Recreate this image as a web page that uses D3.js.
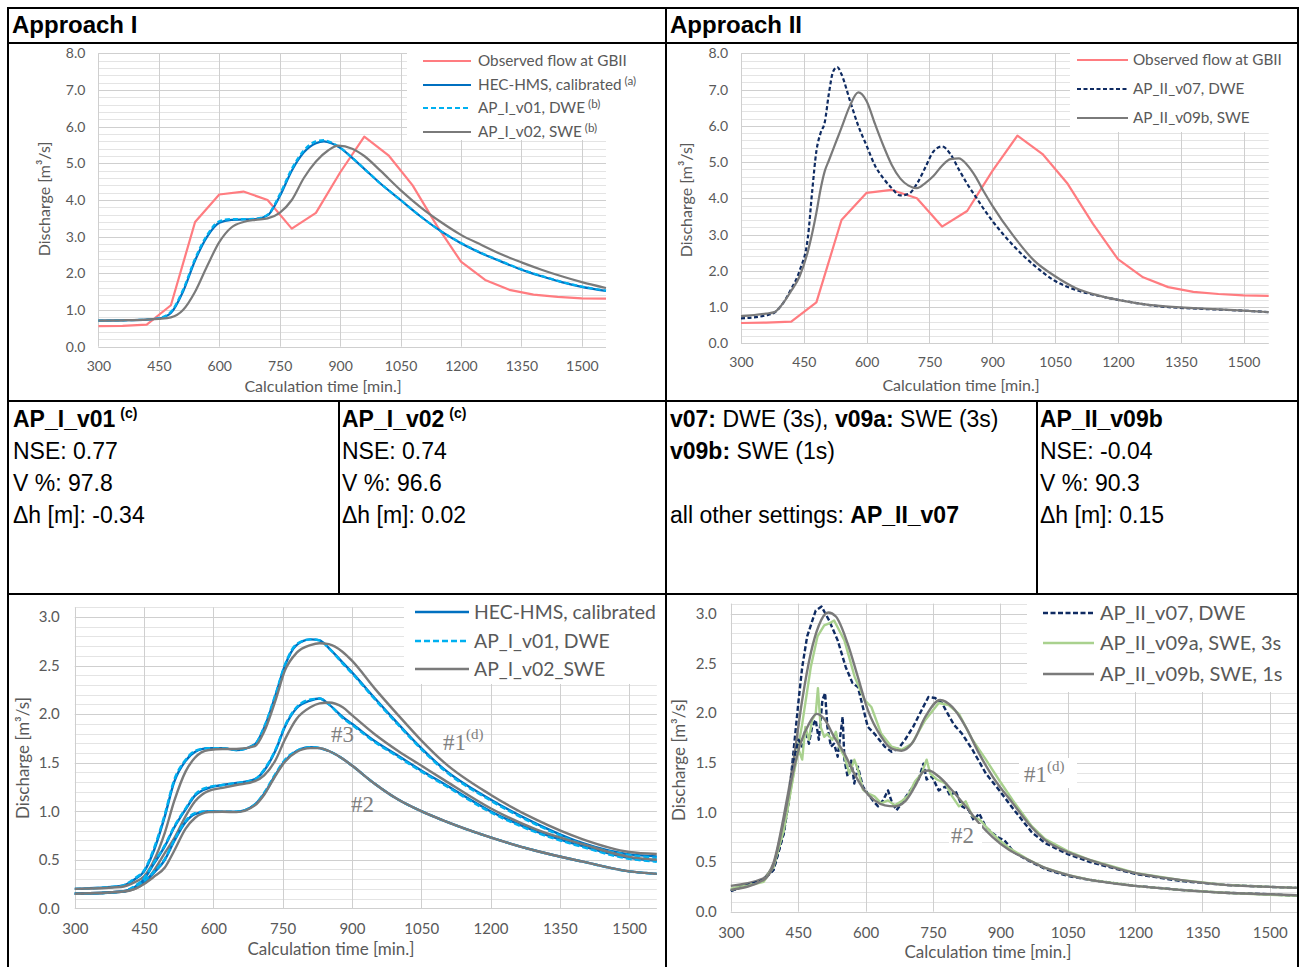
<!DOCTYPE html>
<html>
<head>
<meta charset="utf-8">
<script src="https://cdn.jsdelivr.net/npm/d3@7"></script>
<style>
body { margin: 0; background: #fff; }
svg { display: block; }
</style>
</head>
<body>
<svg width="1304" height="967"></svg>
<script>
// ---------- data ----------
const xTickVals = [300, 450, 600, 750, 900, 1050, 1200, 1350, 1500];
const yTicksTop = [0, 1, 2, 3, 4, 5, 6, 7, 8];
const yTicksBottom = [0, 0.5, 1.0, 1.5, 2.0, 2.5, 3.0];

// observed flow at GBII (hourly)
const obsFlow = [[300,0.56],[360,0.57],[420,0.60],[480,1.13],[540,3.40],[600,4.15],[660,4.23],[720,4.00],[780,3.22],[840,3.65],[900,4.75],[960,5.73],[1020,5.22],[1080,4.40],[1140,3.30],[1200,2.32],[1260,1.82],[1320,1.55],[1380,1.42],[1440,1.36],[1500,1.32],[1560,1.31]];

// Approach I, outlet
const hecTop = [[300,0.71],[360,0.72],[420,0.74],[450,0.77],[480,0.92],[510,1.5],[540,2.35],[570,3.0],[600,3.38],[630,3.46],[660,3.47],[690,3.48],[720,3.58],[750,4.1],[780,4.8],[810,5.3],[840,5.55],[860,5.6],[880,5.54],[900,5.42],[930,5.15],[960,4.85],[1000,4.45],[1050,4.0],[1100,3.55],[1150,3.15],[1200,2.82],[1250,2.55],[1300,2.32],[1350,2.1],[1400,1.92],[1450,1.76],[1500,1.63],[1560,1.52]];
const v01Top = [[300,0.71],[360,0.72],[420,0.74],[450,0.78],[480,0.95],[510,1.55],[540,2.4],[570,3.05],[600,3.42],[630,3.48],[660,3.48],[690,3.49],[720,3.6],[750,4.15],[780,4.85],[810,5.35],[840,5.6],[860,5.63],[880,5.56],[900,5.43],[930,5.15],[960,4.85],[1000,4.45],[1050,4.0],[1100,3.55],[1150,3.15],[1200,2.83],[1250,2.56],[1300,2.33],[1350,2.11],[1400,1.93],[1450,1.77],[1500,1.64],[1560,1.53]];
const v02Top = [[300,0.71],[360,0.72],[420,0.74],[450,0.76],[480,0.8],[510,1.0],[540,1.5],[570,2.2],[600,2.85],[630,3.25],[660,3.4],[690,3.46],[720,3.5],[750,3.65],[780,4.0],[810,4.6],[840,5.05],[870,5.35],[895,5.48],[930,5.4],[960,5.2],[1000,4.8],[1050,4.27],[1100,3.8],[1150,3.4],[1200,3.05],[1250,2.78],[1300,2.52],[1350,2.3],[1400,2.1],[1450,1.92],[1500,1.76],[1560,1.6]];

// Approach II, outlet
const v07Top = [[300,0.69],[360,0.77],[380,0.85],[400,1.1],[420,1.5],[440,2.0],[460,2.95],[470,4.2],[480,5.3],[490,5.8],[500,6.1],[510,6.9],[520,7.5],[530,7.62],[540,7.42],[560,6.7],[580,6.0],[600,5.45],[620,4.9],[640,4.55],[660,4.28],[680,4.08],[700,4.12],[720,4.4],[740,4.85],[760,5.3],[780,5.43],[800,5.22],[820,4.8],[840,4.4],[860,4.05],[880,3.7],[900,3.38],[950,2.7],[1000,2.15],[1050,1.72],[1100,1.47],[1150,1.32],[1200,1.2],[1300,1.02],[1400,0.95],[1500,0.9],[1560,0.86]];
const v09bTop = [[300,0.75],[360,0.82],[380,0.86],[400,1.1],[420,1.45],[440,1.85],[460,2.55],[480,3.6],[490,4.25],[500,4.75],[510,5.05],[520,5.35],[530,5.65],[540,5.95],[560,6.55],[580,6.92],[600,6.68],[620,6.05],[640,5.45],[660,4.92],[680,4.55],[700,4.35],[720,4.28],[740,4.42],[760,4.62],[780,4.9],[800,5.08],[820,5.1],[840,4.92],[860,4.6],[880,4.18],[900,3.8],[950,2.97],[1000,2.28],[1050,1.85],[1100,1.52],[1150,1.33],[1200,1.2],[1300,1.03],[1400,0.96],[1500,0.9],[1560,0.86]];

// Approach I, inner cross sections #1, #2, #3
const timeC = [300,400,430,450,470,495,515,540,560,590,620,650,690,710,735,755,780,810,830,850,880,900,950,1000,1050,1100,1200,1300,1400,1500,1560];
const hec1 = [0.2,0.23,0.3,0.38,0.58,0.95,1.3,1.52,1.61,1.65,1.65,1.63,1.69,1.86,2.2,2.5,2.71,2.77,2.76,2.68,2.53,2.43,2.16,1.9,1.65,1.43,1.12,0.87,0.67,0.555,0.535];
const v01_1 = [0.2,0.23,0.31,0.39,0.6,0.97,1.32,1.53,1.62,1.65,1.65,1.63,1.69,1.87,2.21,2.51,2.72,2.77,2.76,2.68,2.52,2.42,2.15,1.89,1.64,1.42,1.11,0.86,0.66,0.55,0.52];
const v02_1 = [0.2,0.22,0.27,0.33,0.48,0.78,1.1,1.41,1.55,1.63,1.64,1.64,1.67,1.82,2.15,2.45,2.63,2.71,2.73,2.72,2.64,2.55,2.26,1.99,1.73,1.5,1.17,0.91,0.71,0.58,0.56];
const hec3 = [0.15,0.17,0.22,0.3,0.45,0.64,0.83,1.02,1.16,1.24,1.27,1.29,1.33,1.42,1.63,1.87,2.06,2.14,2.16,2.1,1.97,1.9,1.72,1.57,1.42,1.28,1.0,0.79,0.64,0.52,0.49];
const v01_3 = [0.15,0.17,0.23,0.31,0.46,0.65,0.84,1.03,1.17,1.25,1.27,1.29,1.33,1.43,1.64,1.88,2.07,2.15,2.16,2.1,1.96,1.89,1.71,1.56,1.41,1.27,0.99,0.78,0.63,0.51,0.48];
const v02_3 = [0.15,0.17,0.2,0.26,0.38,0.57,0.72,0.95,1.1,1.21,1.24,1.27,1.31,1.37,1.53,1.74,1.95,2.07,2.11,2.12,2.07,1.99,1.79,1.62,1.47,1.32,1.03,0.81,0.66,0.53,0.5];
const hec2 = [0.15,0.17,0.21,0.27,0.36,0.5,0.69,0.89,0.97,1.0,0.995,0.995,1.07,1.18,1.38,1.52,1.62,1.66,1.65,1.62,1.54,1.47,1.28,1.12,1.0,0.9,0.73,0.59,0.48,0.38,0.355];
const v01_2 = [0.15,0.17,0.22,0.28,0.37,0.51,0.7,0.9,0.98,1.0,0.995,0.995,1.07,1.19,1.39,1.53,1.62,1.66,1.65,1.62,1.54,1.47,1.28,1.12,1.0,0.9,0.73,0.59,0.48,0.38,0.355];
const v02_2 = [0.15,0.17,0.2,0.25,0.32,0.42,0.59,0.82,0.93,0.99,0.995,0.99,1.06,1.17,1.37,1.51,1.61,1.65,1.65,1.62,1.54,1.47,1.28,1.12,1.0,0.9,0.73,0.59,0.48,0.38,0.355];

// Approach II, inner cross sections #1, #2
const v07_1 = [[300,0.21],[373,0.32],[395,0.42],[418,0.79],[429,1.12],[440,1.63],[451,2.13],[459,2.46],[470,2.77],[489,3.03],[502,3.07],[519,2.93],[538,2.73],[556,2.46],[571,2.3],[583,2.26],[594,2.06],[605,1.86],[620,1.79],[643,1.66],[658,1.61],[673,1.64],[688,1.73],[706,1.86],[725,2.03],[740,2.16],[755,2.15],[770,2.1],[782,2.0],[797,1.88],[815,1.79],[838,1.63],[868,1.39],[898,1.22],[928,1.04],[970,0.8],[1000,0.69],[1050,0.58],[1100,0.5],[1200,0.38],[1300,0.31],[1400,0.27],[1500,0.25],[1560,0.24]];
const v09a_1 = [[300,0.23],[373,0.32],[395,0.45],[418,0.82],[440,1.39],[459,1.89],[478,2.46],[493,2.77],[508,2.88],[519,2.9],[530,2.93],[553,2.73],[576,2.36],[598,2.13],[613,2.06],[635,1.79],[658,1.66],[680,1.63],[703,1.69],[733,1.93],[763,2.1],[785,2.08],[808,1.99],[838,1.73],[868,1.53],[898,1.32],[928,1.12],[970,0.86],[1000,0.73],[1050,0.61],[1100,0.52],[1200,0.39],[1300,0.32],[1400,0.27],[1500,0.25],[1560,0.24]];
const v09b_1 = [[300,0.26],[370,0.33],[395,0.49],[418,0.96],[440,1.53],[459,2.13],[478,2.6],[496,2.88],[517,3.01],[534,2.97],[560,2.7],[583,2.36],[605,2.03],[635,1.76],[658,1.64],[680,1.62],[706,1.71],[733,1.96],[766,2.13],[793,2.06],[823,1.86],[853,1.59],[883,1.36],[928,1.09],[970,0.85],[1000,0.72],[1050,0.6],[1100,0.52],[1200,0.39],[1300,0.32],[1400,0.27],[1500,0.25],[1560,0.24]];
const v07_2 = [[300,0.21],[373,0.32],[395,0.42],[418,0.79],[429,1.12],[440,1.53],[451,1.73],[459,1.66],[466,1.83],[474,1.69],[481,1.86],[489,1.93],[496,1.73],[504,2.13],[510,2.2],[515,1.86],[523,1.66],[530,1.69],[538,1.56],[549,1.96],[553,1.53],[560,1.36],[568,1.53],[575,1.29],[583,1.46],[594,1.26],[605,1.19],[616,1.12],[628,1.06],[639,1.12],[650,1.22],[658,1.11],[669,1.02],[680,1.09],[695,1.19],[706,1.26],[718,1.33],[729,1.49],[736,1.33],[748,1.36],[763,1.22],[778,1.26],[789,1.16],[800,1.22],[815,1.06],[830,1.02],[841,0.92],[853,0.99],[868,0.85],[883,0.79],[898,0.74],[909,0.72],[930,0.6],[960,0.52],[1000,0.43],[1050,0.36],[1100,0.32],[1200,0.26],[1300,0.22],[1400,0.19],[1500,0.175],[1560,0.16]];
const v09a_2 = [[300,0.22],[373,0.3],[395,0.45],[418,0.82],[440,1.39],[451,1.63],[459,1.53],[466,1.86],[474,1.73],[481,1.93],[489,1.99],[494,2.25],[500,1.86],[508,1.76],[515,1.79],[526,1.73],[534,1.81],[541,1.66],[553,1.56],[564,1.39],[575,1.53],[583,1.43],[594,1.23],[605,1.19],[620,1.16],[635,1.09],[650,1.12],[665,1.07],[680,1.11],[695,1.17],[710,1.31],[725,1.39],[736,1.53],[744,1.39],[759,1.33],[778,1.29],[793,1.16],[808,1.06],[823,1.11],[838,0.96],[856,0.92],[875,0.82],[898,0.72],[920,0.64],[960,0.53],[1000,0.44],[1050,0.37],[1100,0.32],[1200,0.26],[1300,0.22],[1400,0.19],[1500,0.17],[1560,0.16]];
const v09b_2 = [[300,0.22],[373,0.32],[395,0.47],[418,0.92],[440,1.43],[455,1.69],[474,1.89],[491,1.99],[508,1.94],[530,1.76],[553,1.59],[575,1.39],[598,1.22],[620,1.12],[643,1.07],[665,1.06],[688,1.11],[710,1.26],[729,1.41],[740,1.42],[763,1.36],[793,1.22],[823,1.06],[853,0.89],[883,0.75],[920,0.62],[950,0.55],[1000,0.44],[1050,0.37],[1100,0.32],[1200,0.26],[1300,0.22],[1400,0.19],[1500,0.175],[1560,0.165]];

// statistics table
const col1Lines = ['NSE: 0.77', 'V %: 97.8', 'Δh [m]: -0.34'];
const col2Lines = ['NSE: 0.74', 'V %: 96.6', 'Δh [m]: 0.02'];
const col4Lines = ['NSE: -0.04', 'V %: 90.3', 'Δh [m]: 0.15'];

// ---------- drawing ----------
const svg = d3.select('svg');
const FONT = 'Lato, "Open Sans", sans-serif';
const ARIAL = '"Liberation Sans", Arial, sans-serif';
const SERIF = '"Liberation Serif", "DejaVu Serif", serif';
const TXT = '#595959';
const C = {obs: '#ff7c80', hec: '#0070c0', v01: '#00b0f0', grey: '#7a7a7a', navy: '#0f2b62', green: '#a9d18e'};
const timeDomain = [300, 1560];

function zipT(t, v) { return t.map((d, i) => [d, v[i]]); }

function panel(cfg) {
    const x = d3.scaleLinear().domain(timeDomain).range([cfg.left, cfg.right]);
    const y = d3.scaleLinear().domain([0, cfg.yTop]).range([cfg.bottom, cfg.top]);
    const g = svg.append('g');

    g.append('g').selectAll('line')
        .data(d3.range(0, cfg.yTop + 1e-6, cfg.minor))
        .join('line')
        .attr('x1', cfg.left).attr('x2', cfg.right)
        .attr('y1', d => Math.round(y(d)) + 0.5).attr('y2', d => Math.round(y(d)) + 0.5)
        .attr('stroke', '#e4e4e4');
    g.append('g').selectAll('line')
        .data(cfg.yTicks)
        .join('line')
        .attr('x1', cfg.left).attr('x2', cfg.right)
        .attr('y1', d => Math.round(y(d)) + 0.5).attr('y2', d => Math.round(y(d)) + 0.5)
        .attr('stroke', '#cfcfcf');
    g.append('g').selectAll('line')
        .data(xTickVals)
        .join('line')
        .attr('x1', d => Math.round(x(d)) + 0.5).attr('x2', d => Math.round(x(d)) + 0.5)
        .attr('y1', y(cfg.yTop)).attr('y2', y(0))
        .attr('stroke', '#cfcfcf');

    // legend background hides the grid
    g.append('rect')
        .attr('x', cfg.legendBox[0]).attr('y', cfg.legendBox[1])
        .attr('width', cfg.legendBox[2]).attr('height', cfg.legendBox[3])
        .attr('fill', '#fff');

    const xAxis = g.append('g')
        .attr('transform', `translate(0,${cfg.bottom})`)
        .call(d3.axisBottom(x).tickValues(xTickVals).tickFormat(d3.format('d')).tickSize(0).tickPadding(cfg.xPad));
    const yAxis = g.append('g')
        .attr('transform', `translate(${cfg.left},0)`)
        .call(d3.axisLeft(y).tickValues(cfg.yTicks).tickFormat(d3.format('.1f')).tickSize(0).tickPadding(cfg.yPad));
    [xAxis, yAxis].forEach(a => {
        a.select('.domain').remove();
        a.attr('font-family', FONT).attr('font-size', cfg.tickSize);
        a.selectAll('text').attr('fill', TXT);
    });

    g.append('text')
        .attr('x', cfg.xTitle[0]).attr('y', cfg.xTitle[1])
        .attr('text-anchor', 'middle')
        .attr('font-family', FONT).attr('font-size', cfg.titleSize).attr('fill', TXT)
        .text('Calculation time [min.]');
    g.append('text')
        .attr('transform', `translate(${cfg.yTitle[0]},${cfg.yTitle[1]}) rotate(-90)`)
        .attr('text-anchor', 'middle')
        .attr('font-family', FONT).attr('font-size', cfg.titleSize).attr('fill', TXT)
        .text('Discharge [m³/s]');

    const line = d3.line().x(d => x(d[0])).y(d => y(d[1]));
    cfg.series.forEach(s => {
        g.append('path')
            .datum(s.data)
            .attr('d', line.curve(s.smooth ? d3.curveMonotoneX : d3.curveLinear))
            .attr('fill', 'none')
            .attr('stroke', s.color)
            .attr('stroke-width', cfg.lineWidth)
            .attr('stroke-dasharray', s.dash || null)
            .attr('stroke-linejoin', 'round');
    });

    // legend
    const lg = g.append('g').attr('font-family', FONT).attr('fill', TXT);
    cfg.legend.forEach((it, i) => {
        const yy = cfg.legendRows[i];
        lg.append('line')
            .attr('x1', cfg.legendLine[0]).attr('x2', cfg.legendLine[1])
            .attr('y1', yy).attr('y2', yy)
            .attr('stroke', it.color).attr('stroke-width', cfg.lineWidth)
            .attr('stroke-dasharray', it.dash || null);
        const t = lg.append('text')
            .attr('x', cfg.legendText).attr('y', yy)
            .attr('dy', '0.35em')
            .attr('font-size', cfg.legendSize);
        t.append('tspan').text(it.label);
        if (it.sup) {
            t.append('tspan').attr('font-size', cfg.legendSize * 0.76).attr('dy', '-0.5em').attr('dx', 3).text(it.sup);
        }
    });

    // curve labels (#1, #2, #3)
    (cfg.marks || []).forEach(m => {
        if (m.bg) {
            g.append('rect').attr('x', m.bg[0]).attr('y', m.bg[1]).attr('width', m.bg[2]).attr('height', m.bg[3]).attr('fill', '#fff');
        }
        const t = g.append('text')
            .attr('x', m.x).attr('y', m.y)
            .attr('font-family', SERIF).attr('font-size', 23).attr('fill', '#808080');
        t.append('tspan').text(m.text);
        if (m.sup) t.append('tspan').attr('font-size', 15).attr('dy', -11).text(m.sup);
    });
}

// Approach I outlet
panel({
    left: 98.4, right: 606, top: 53.3, bottom: 346.7, yTop: 8, yTicks: yTicksTop, minor: 0.2,
    xPad: 14, yPad: 13, tickSize: 14, titleSize: 16, lineWidth: 2.2,
    xTitle: [323, 392], yTitle: [50, 199],
    legendBox: [407, 45, 258, 95],
    legendLine: [423, 471], legendText: 478, legendRows: [61, 85, 108, 132], legendSize: 15.3,
    series: [
        {data: obsFlow, color: C.obs},
        {data: hecTop, color: C.hec, smooth: true},
        {data: v01Top, color: C.v01, smooth: true, dash: '5,3'},
        {data: v02Top, color: C.grey, smooth: true}
    ],
    legend: [
        {label: 'Observed flow at GBII', color: C.obs},
        {label: 'HEC-HMS, calibrated', sup: '(a)', color: C.hec},
        {label: 'AP_I_v01, DWE', sup: '(b)', color: C.v01, dash: '5,3'},
        {label: 'AP_I_v02, SWE', sup: '(b)', color: C.grey}
    ]
});

// Approach II outlet
panel({
    left: 741, right: 1268.7, top: 53.3, bottom: 343.3, yTop: 8, yTicks: yTicksTop, minor: 0.2,
    xPad: 14, yPad: 13, tickSize: 14, titleSize: 16, lineWidth: 2.2,
    xTitle: [961, 391], yTitle: [692, 200],
    legendBox: [1070, 45, 226, 87],
    legendLine: [1077, 1128], legendText: 1133, legendRows: [60, 89, 118], legendSize: 15.3,
    series: [
        {data: obsFlow, color: C.obs},
        {data: v07Top, color: C.navy, smooth: true, dash: '4,2.5'},
        {data: v09bTop, color: C.grey, smooth: true}
    ],
    legend: [
        {label: 'Observed flow at GBII', color: C.obs},
        {label: 'AP_II_v07, DWE', color: C.navy, dash: '4,2.5'},
        {label: 'AP_II_v09b, SWE', color: C.grey}
    ]
});

// Approach I inner sections
panel({
    left: 74.8, right: 656.8, top: 607.3, bottom: 908.3, yTop: 3.1, yTicks: yTicksBottom, minor: 0.1,
    xPad: 15, yPad: 15, tickSize: 15, titleSize: 17, lineWidth: 2.4,
    xTitle: [331, 955], yTitle: [29, 758],
    legendBox: [404, 596, 262, 88],
    legendLine: [415, 469], legendText: 474, legendRows: [612, 641, 669], legendSize: 19.4,
    series: [
        {data: zipT(timeC, hec1), color: C.hec, smooth: true},
        {data: zipT(timeC, v01_1), color: C.v01, smooth: true, dash: '6,3'},
        {data: zipT(timeC, v02_1), color: C.grey, smooth: true},
        {data: zipT(timeC, hec3), color: C.hec, smooth: true},
        {data: zipT(timeC, v01_3), color: C.v01, smooth: true, dash: '6,3'},
        {data: zipT(timeC, v02_3), color: C.grey, smooth: true},
        {data: zipT(timeC, hec2), color: C.hec, smooth: true},
        {data: zipT(timeC, v01_2), color: C.v01, smooth: true, dash: '6,3'},
        {data: zipT(timeC, v02_2), color: C.grey, smooth: true}
    ],
    legend: [
        {label: 'HEC-HMS, calibrated', color: C.hec},
        {label: 'AP_I_v01, DWE', color: C.v01, dash: '6,3'},
        {label: 'AP_I_v02_SWE', color: C.grey}
    ],
    marks: [
        {text: '#3', x: 331, y: 742},
        {text: '#2', x: 351, y: 812},
        {text: '#1', sup: '(d)', x: 443, y: 750}
    ]
});

// Approach II inner sections
panel({
    left: 730.8, right: 1296.7, top: 603.6, bottom: 911.7, yTop: 3.1, yTicks: yTicksBottom, minor: 0.1,
    xPad: 16, yPad: 14, tickSize: 15, titleSize: 17, lineWidth: 2.4,
    xTitle: [988, 958], yTitle: [685, 760],
    legendBox: [1027, 596, 270, 96],
    legendLine: [1043, 1094], legendText: 1100, legendRows: [613, 643, 674], legendSize: 20,
    series: [
        {data: v07_1, color: C.navy, dash: '5,2.5'},
        {data: v09a_1, color: C.green},
        {data: v09b_1, color: C.grey, smooth: true},
        {data: v07_2, color: C.navy, dash: '5,2.5'},
        {data: v09a_2, color: C.green},
        {data: v09b_2, color: C.grey, smooth: true}
    ],
    legend: [
        {label: 'AP_II_v07, DWE', color: C.navy, dash: '5,2.5'},
        {label: 'AP_II_v09a, SWE, 3s', color: C.green},
        {label: 'AP_II_v09b, SWE, 1s', color: C.grey}
    ],
    marks: [
        {text: '#1', sup: '(d)', x: 1024, y: 782, bg: [1019, 758, 58, 30]},
        {text: '#2', x: 951, y: 843, bg: [949, 824, 33, 23]}
    ]
});

// ---------- table frame and text ----------
const frame = svg.append('g').attr('stroke', '#000').attr('stroke-width', 2);
frame.append('line').attr('x1', 7).attr('x2', 1299).attr('y1', 8).attr('y2', 8);
frame.append('line').attr('x1', 7).attr('x2', 1299).attr('y1', 43).attr('y2', 43);
frame.append('line').attr('x1', 7).attr('x2', 1299).attr('y1', 401).attr('y2', 401);
frame.append('line').attr('x1', 7).attr('x2', 1299).attr('y1', 594).attr('y2', 594);
frame.append('line').attr('x1', 8).attr('x2', 8).attr('y1', 7).attr('y2', 967);
frame.append('line').attr('x1', 1298).attr('x2', 1298).attr('y1', 7).attr('y2', 967);
frame.append('line').attr('x1', 666).attr('x2', 666).attr('y1', 7).attr('y2', 967);
frame.append('line').attr('x1', 339).attr('x2', 339).attr('y1', 401).attr('y2', 594);
frame.append('line').attr('x1', 1037).attr('x2', 1037).attr('y1', 401).attr('y2', 594);

const tx = svg.append('g').attr('font-family', ARIAL).attr('fill', '#000');
tx.append('text').attr('x', 12).attr('y', 33).attr('font-size', 24).attr('font-weight', 'bold').text('Approach I');
tx.append('text').attr('x', 670).attr('y', 33).attr('font-size', 24).attr('font-weight', 'bold').text('Approach II');

const rowY = [427, 459, 491, 523];
function head(x, name, sup) {
    const t = tx.append('text').attr('x', x).attr('y', rowY[0]).attr('font-size', 23).attr('font-weight', 'bold');
    t.append('tspan').text(name);
    if (sup) t.append('tspan').attr('font-size', 14).attr('dy', -9).attr('dx', 5).text(sup);
}
function lines(x, arr) {
    arr.forEach((s, i) => tx.append('text').attr('x', x).attr('y', rowY[i + 1]).attr('font-size', 23).text(s));
}
head(13, 'AP_I_v01', '(c)');
lines(13, col1Lines);
head(342, 'AP_I_v02', '(c)');
lines(342, col2Lines);
head(1040, 'AP_II_v09b');
lines(1040, col4Lines);

const c3a = tx.append('text').attr('x', 670).attr('y', rowY[0]).attr('font-size', 23);
c3a.append('tspan').attr('font-weight', 'bold').text('v07:');
c3a.append('tspan').text(' DWE (3s), ');
c3a.append('tspan').attr('font-weight', 'bold').text('v09a:');
c3a.append('tspan').text(' SWE (3s)');
const c3b = tx.append('text').attr('x', 670).attr('y', rowY[1]).attr('font-size', 23);
c3b.append('tspan').attr('font-weight', 'bold').text('v09b:');
c3b.append('tspan').text(' SWE (1s)');
const c3c = tx.append('text').attr('x', 670).attr('y', rowY[3]).attr('font-size', 23);
c3c.append('tspan').text('all other settings: ');
c3c.append('tspan').attr('font-weight', 'bold').text('AP_II_v07');
</script>
</body>
</html>
